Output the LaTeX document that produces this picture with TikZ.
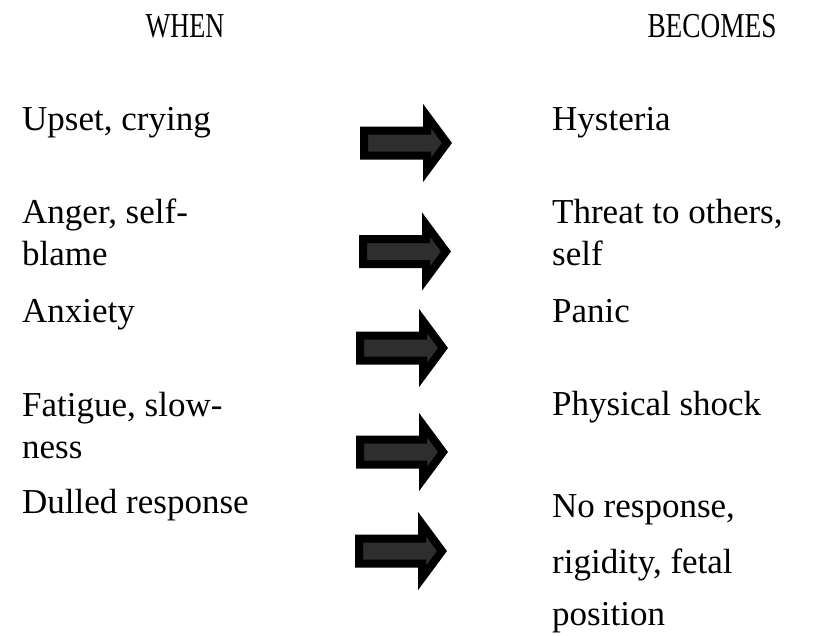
\documentclass[tikz,border=0pt]{standalone}
\usepackage{fontspec}
\setmainfont{Liberation Serif}
\begin{document}
\begin{tikzpicture}[x=1pt,y=-1pt,
  txt/.style={inner sep=0pt,anchor=base west,align=left,font=\fontsize{35}{42}\selectfont},
  hdr/.style={inner sep=0pt,anchor=base,font=\fontsize{35}{42}\selectfont},
  fatarrow/.style={draw=black,fill=black!82,line width=8pt,line join=miter,miter limit=10}]
\useasboundingbox (0,0) rectangle (814,635);
\node[hdr] (when) at (185,37) {\scalebox{0.75}[1]{WHEN}};
\node[hdr] (becomes) at (712,37) {\scalebox{0.78}[1]{BECOMES}};
\node[txt] (l1) at (22,130) {Upset, crying};
\node[txt] (l2) at (22,265) {Anger, self-\\blame};
\node[txt] (l3) at (22,322) {Anxiety};
\node[txt] (l4) at (22,458) {Fatigue, slow-\\ness};
\node[txt] (l5) at (22,513) {Dulled response};
\node[txt] (r1) at (552,130) {Hysteria};
\node[txt] (r2) at (552,265) {Threat to others,\\self};
\node[txt] (r3) at (552,322) {Panic};
\node[txt] (r4) at (552,415) {Physical shock};
\node[txt] (r5) at (552,625) {No response,\\[14pt]rigidity, fetal\\[10pt]position};
\foreach \n/\tx/\ty in {1/447/143, 2/446/251.5, 3/443/348, 4/443/452, 5/442/551}{
  \draw[fatarrow] (\tx-83,\ty-12.5) -- (\tx-20,\ty-12.5) -- (\tx-20,\ty-27) -- (\tx,\ty)
    -- (\tx-20,\ty+27) -- (\tx-20,\ty+12.5) -- (\tx-83,\ty+12.5) -- cycle;
}
\end{tikzpicture}
\end{document}
